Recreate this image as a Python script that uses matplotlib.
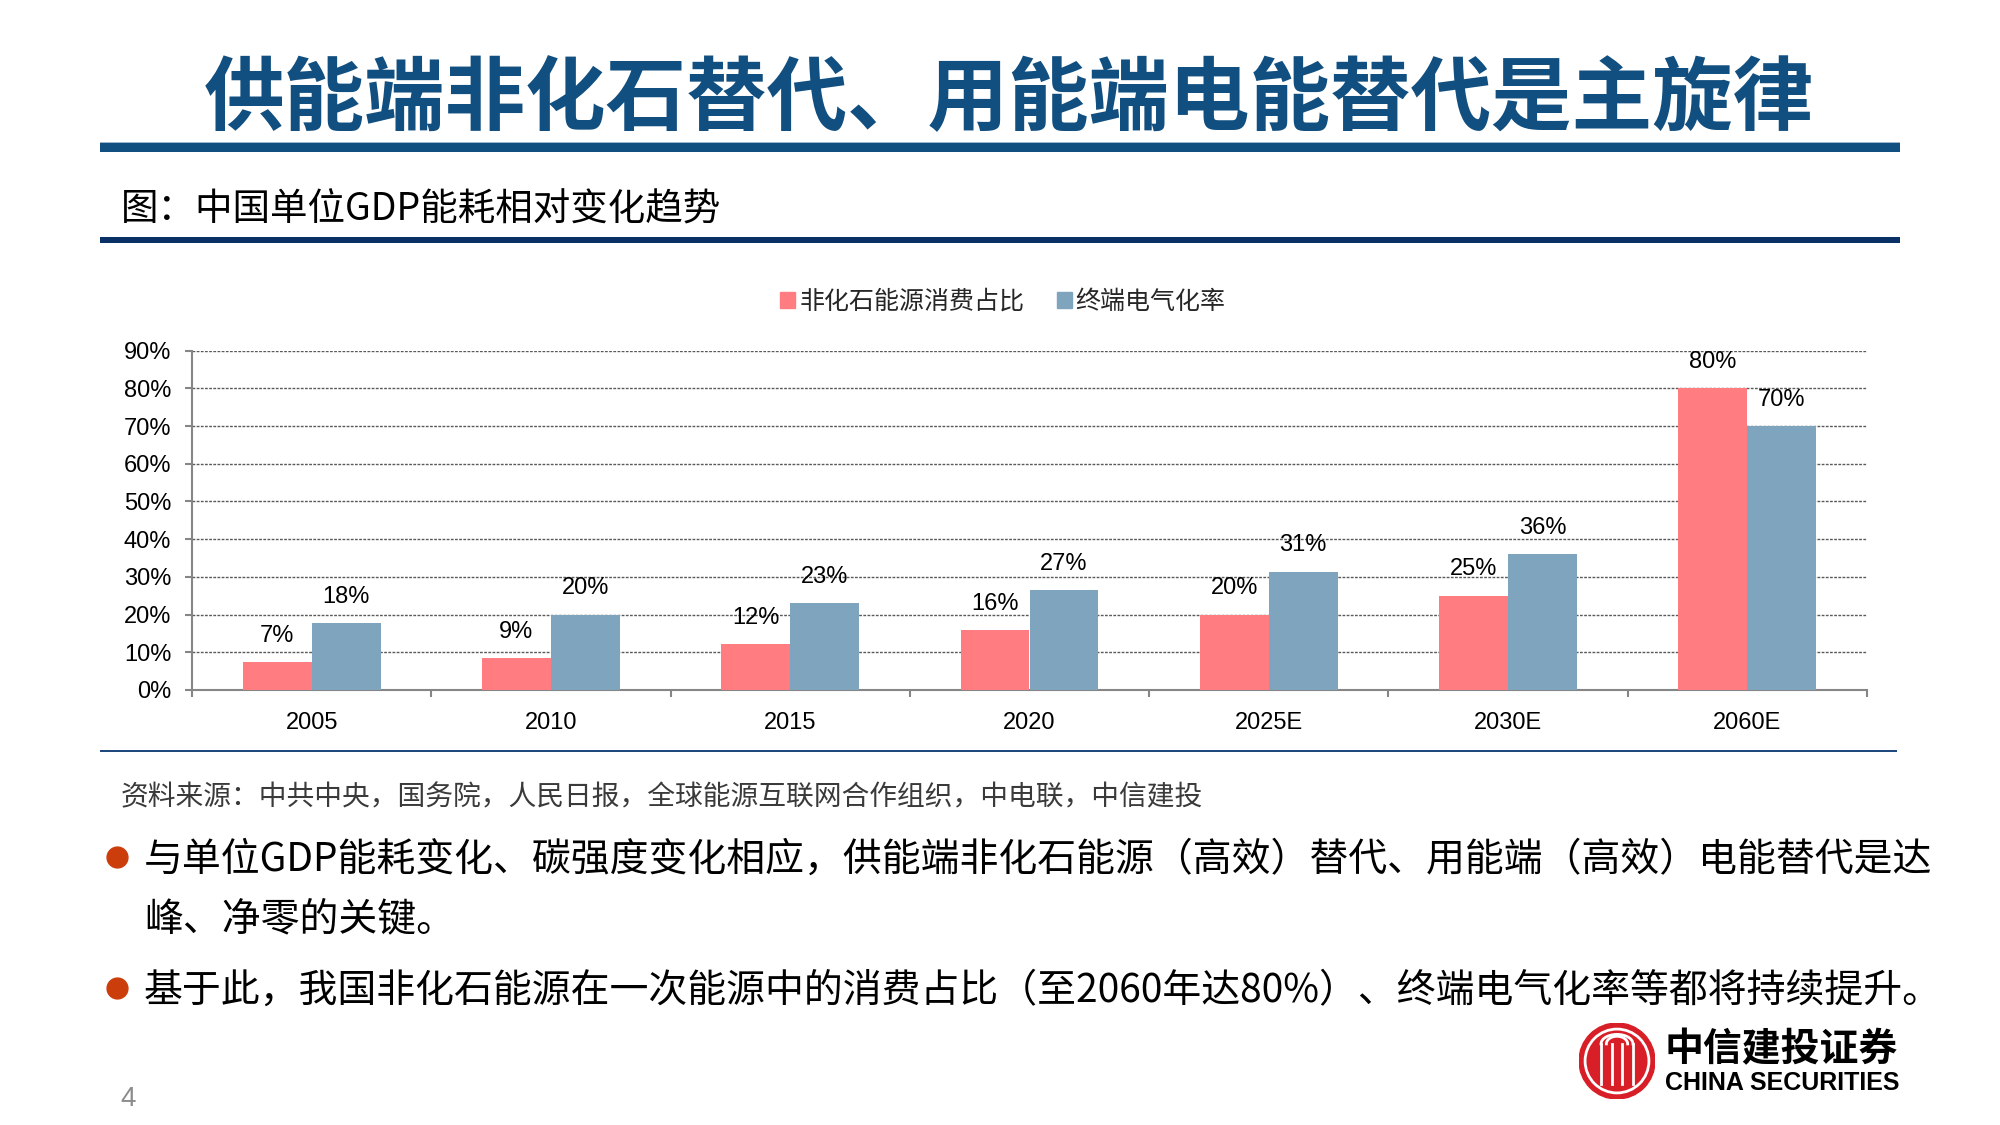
import matplotlib
matplotlib.use("Agg")
import matplotlib.pyplot as plt
from matplotlib.patches import Rectangle, Patch, Circle
from matplotlib.lines import Line2D
import numpy as np

# 数据
categories = ["2005", "2010", "2015", "2020", "2025E", "2030E", "2060E"]
non_fossil = [7.4, 8.5, 12.2, 15.9, 20.0, 25.0, 80.0]
non_fossil_labels = ["7%", "9%", "12%", "16%", "20%", "25%", "80%"]
electrification = [17.8, 20.0, 23.0, 26.5, 31.4, 36.0, 70.0]
electrification_labels = ["18%", "20%", "23%", "27%", "31%", "36%", "70%"]
series_names = ["非化石能源消费占比", "终端电气化率"]
y_ticks = [0, 10, 20, 30, 40, 50, 60, 70, 80, 90]

CJK = ["Noto Sans CJK SC", "DejaVu Sans"]
LAT = ["Liberation Sans", "DejaVu Sans"]
RED = "#FF7C80"
BLUE = "#7FA4BE"

W, H = 2000, 1125


def px(x):
    return x / W


def py(y):
    return 1 - y / H


fig = plt.figure(figsize=(20, 11.25), dpi=100)

# 标题和分隔线
fig.text(px(1009), py(101), "供能端非化石替代、用能端电能替代是主旋律", family=CJK,
         fontsize=58, fontweight="bold", color="#114F80", ha="center", va="center")
fig.add_artist(Rectangle((px(100), py(152)), px(1900) - px(100), 9 / H,
                         transform=fig.transFigure, color="#114F80", lw=0))
fig.add_artist(Rectangle((px(100), py(143)), px(1900) - px(100), 1.5 / H,
                         transform=fig.transFigure, color="#9DB8D0", lw=0))

fig.text(px(121), py(210), "图：中国单位GDP能耗相对变化趋势", family=CJK,
         fontsize=27, color="black", ha="left", va="center")
fig.add_artist(Rectangle((px(100), py(243)), px(1900) - px(100), 6 / H,
                         transform=fig.transFigure, color="#0A3166", lw=0))

# 柱状图
ax = fig.add_axes([px(192), py(690), px(1867) - px(192), (690 - 350.7) / H])
x = np.arange(len(categories))
bw = 0.288
ax.bar(x - bw / 2, non_fossil, bw, color=RED, zorder=3)
ax.bar(x + bw / 2, electrification, bw, color=BLUE, zorder=3)

for xi, v, lab in zip(x, non_fossil, non_fossil_labels):
    ax.annotate(lab, (xi - bw / 2, v), xytext=(0, 19), textcoords="offset points",
                ha="center", va="center", fontsize=17, family=LAT, color="black")
for xi, v, lab in zip(x, electrification, electrification_labels):
    ax.annotate(lab, (xi + bw / 2, v), xytext=(0, 19), textcoords="offset points",
                ha="center", va="center", fontsize=17, family=LAT, color="black")

ax.set_xlim(-0.5, len(categories) - 0.5)
ax.set_ylim(0, 90)
ax.set_yticks(y_ticks)
ax.set_yticklabels([f"{t}%" for t in y_ticks], fontsize=17, family=LAT)
ax.set_xticks(x)
ax.set_xticklabels(categories, fontsize=17, family=LAT)
ax.set_xticks(np.arange(len(categories) + 1) - 0.5, minor=True)
ax.tick_params(axis="x", which="major", length=0, pad=16)
ax.tick_params(axis="x", which="minor", length=5, width=1.5, color="#868686", direction="out")
ax.tick_params(axis="y", length=5, width=1.5, color="#868686", direction="out", pad=10)
ax.grid(axis="y", linestyle=(0, (2, 1)), color="#5A5A5A", linewidth=1, zorder=0)
ax.set_axisbelow(True)
for s in ["top", "right"]:
    ax.spines[s].set_visible(False)
for s in ["left", "bottom"]:
    ax.spines[s].set_color("#868686")
    ax.spines[s].set_linewidth(1.5)

handles = [Patch(color=RED), Patch(color=BLUE)]
fig.legend(handles, series_names, loc="center", bbox_to_anchor=(px(1003), py(302)),
           ncol=2, frameon=False, prop={"family": CJK, "size": 18},
           handlelength=0.6, handleheight=0.6, handletextpad=0.15, columnspacing=1.3,
           labelcolor="#262626")

fig.add_artist(Rectangle((px(100), py(752)), px(1897) - px(100), 2.5 / H,
                         transform=fig.transFigure, color="#1F497D", lw=0))

# 资料来源
fig.text(px(121), py(797), "资料来源：中共中央，国务院，人民日报，全球能源互联网合作组织，中电联，中信建投",
         family=CJK, fontsize=20, style="italic", color="#3A3A3A", ha="left", va="center")

# 要点
bullets = [
    (860, "与单位GDP能耗变化、碳强度变化相应，供能端非化石能源（高效）替代、用能端（高效）电能替代是达", True),
    (919, "峰、净零的关键。", False),
    (991, "基于此，我国非化石能源在一次能源中的消费占比（至2060年达80%）、终端电气化率等都将持续提升。", True),
]
for yy, txt, dot in bullets:
    if dot:
        fig.add_artist(Line2D([px(117)], [py(yy - 3)], marker="o", markersize=15,
                              color="#CC3D0C", transform=fig.transFigure))
    fig.text(px(144), py(yy), txt, family=CJK, fontsize=28, color="black",
             ha="left", va="center")

# 标志
lax = fig.add_axes([px(1579), py(1099), 76 / W, 76 / H])
lax.set_xlim(-1, 1)
lax.set_ylim(-1, 1)
lax.set_aspect("equal")
lax.axis("off")
lax.add_patch(Circle((0, 0), 1.0, color="#D81E26"))
lax.add_patch(Circle((0, 0), 0.84, fill=False, ec="white", lw=2))
for xv in [-0.42, -0.14, 0.14, 0.42]:
    lax.plot([xv, xv], [-0.6, 0.45], color="white", lw=2)
t = np.linspace(0, np.pi, 40)
lax.plot(0.28 * np.cos(t), 0.45 + 0.2 * np.sin(t), color="white", lw=2)
lax.plot(0.42 * np.cos(t), 0.45 + 0.25 * np.sin(t), color="white", lw=2)

fig.text(px(1665), py(1050), "中信建投证券", family=CJK, fontsize=28, fontweight="bold",
         color="black", ha="left", va="center")
fig.text(px(1665), py(1083), "CHINA SECURITIES", family=LAT, fontsize=18, fontweight="bold",
         color="black", ha="left", va="center")

fig.text(px(128), py(1099), "4", family=LAT, fontsize=20, color="#8C8C8C",
         ha="center", va="center")

fig.savefig("out.png", dpi=100)
